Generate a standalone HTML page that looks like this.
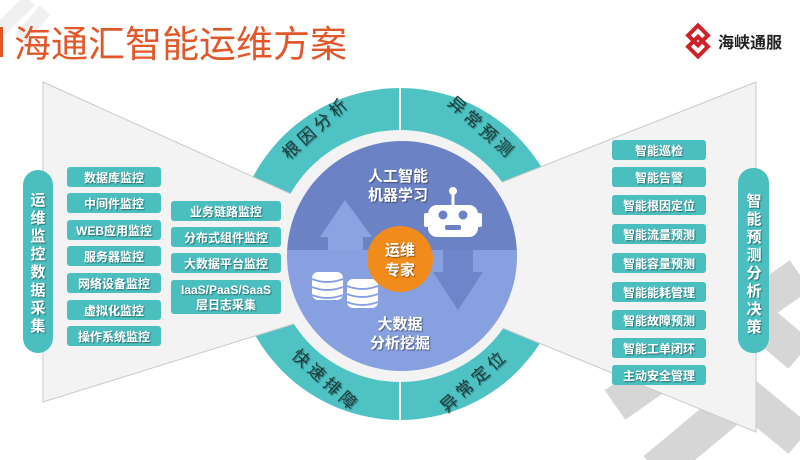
<!DOCTYPE html>
<html><head><meta charset="utf-8"><style>
html,body{margin:0;padding:0;background:#fff;width:800px;height:460px;overflow:hidden}
svg{display:block}
text{font-family:"Liberation Sans","Noto Sans CJK SC",sans-serif}
</style></head><body>
<svg width="800" height="460" viewBox="0 0 800 460" xmlns="http://www.w3.org/2000/svg">
<defs>
<filter id="sh" x="-20%" y="-20%" width="140%" height="140%"><feDropShadow dx="1" dy="1" stdDeviation="0.6" flood-color="#000" flood-opacity="0.45"/></filter>
</defs>
<!-- watermark bands -->
<g stroke="#d6d6d6" stroke-width="36" fill="none" stroke-linecap="butt">
<line x1="615" y1="405" x2="800" y2="275"/>
<line x1="735" y1="300" x2="800" y2="355"/>
<line x1="655" y1="470" x2="745" y2="395"/>
<line x1="745" y1="395" x2="800" y2="440"/>
</g>
<g stroke="#f0f0f0" stroke-width="14" fill="none"><line x1="0" y1="30" x2="30" y2="0"/><line x1="20" y1="40" x2="45" y2="10"/></g>
<!-- title -->
<rect x="0" y="27" width="3" height="30" fill="#e0572a"/>
<text x="14" y="57" font-size="37" fill="#e0572a">海通汇智能运维方案</text>
<!-- logo -->
<g transform="translate(698,41) rotate(45)" fill="none" stroke="#d0202a" stroke-width="4">
<rect x="-11" y="-11" width="14" height="14"/><rect x="-3" y="-3" width="14" height="14"/>
</g>
<text x="718" y="48" font-size="16" font-weight="bold" fill="#222">海峡通服</text>
<!-- ring -->
<circle cx="400" cy="254" r="166" fill="#4fc3c4"/>
<line x1="400" y1="80" x2="400" y2="430" stroke="#fff" stroke-width="2"/>
<!-- funnels -->
<polygon points="43,82 300,198 300,322 43,402" fill="#f3f3f3" stroke="#c9c9c9" stroke-width="1"/>
<polygon points="756,82 500,183 500,327 756,432" fill="#f3f3f3" stroke="#c9c9c9" stroke-width="1"/>
<!-- inner -->
<circle cx="400" cy="256" r="126" fill="#f3f3f3"/>
<clipPath id="cc"><circle cx="402" cy="256" r="115"/></clipPath>
<g clip-path="url(#cc)">
<rect x="280" y="130" width="250" height="120" fill="#6b82c5"/>
<rect x="280" y="250" width="250" height="130" fill="#86a0e0"/>
<polygon points="345,200 372,237 363,237 363,250 328,250 328,237 320,237" fill="#8aa4e2"/>
<polygon points="458,310 433,272 443,272 443,250 473,250 473,272 483,272" fill="#6d85c9"/>
</g>
<!-- robot -->
<g fill="#fff">
<line x1="453" y1="192" x2="453" y2="206" stroke="#fff" stroke-width="3"/>
<circle cx="453" cy="191" r="4"/>
<rect x="428" y="205" width="50" height="32" rx="9"/>
<rect x="424" y="213" width="6" height="14" rx="2"/><rect x="476" y="213" width="6" height="14" rx="2"/>
<circle cx="443" cy="215" r="4.5" fill="#6b82c5"/><circle cx="463" cy="215" r="4.5" fill="#6b82c5"/>
<rect x="445" y="225" width="16" height="5" rx="2" fill="#6b82c5"/>
</g>
<!-- databases -->
<g fill="#fff">
<rect x="312" y="272" width="31" height="28" rx="6"/>
<rect x="347" y="279" width="31" height="29" rx="6"/>
</g>
<g fill="none" stroke="#86a0e0" stroke-width="2">
<path d="M312 279 Q327 285 343 279 M312 287 Q327 293 343 287 M312 295 Q327 301 343 295"/>
<path d="M347 286 Q362 292 378 286 M347 294 Q362 300 378 294 M347 302 Q362 308 378 302"/>
</g>
<circle cx="400" cy="259" r="33" fill="#f18c1c"/>
<g font-weight="bold" fill="#fff" text-anchor="middle" filter="url(#sh)">
<text x="400" y="255" font-size="15">运维</text><text x="400" y="275" font-size="15">专家</text>
<text x="398" y="181" font-size="15">人工智能</text><text x="398" y="200" font-size="15">机器学习</text>
<text x="400" y="329" font-size="15">大数据</text><text x="400" y="348" font-size="15">分析挖掘</text>
</g>
<!-- ring labels -->
<g font-size="17" fill="#1a3a3a" text-anchor="middle" letter-spacing="4" filter="url(#sh)">
<text transform="translate(320,132) rotate(-42)">根因分析</text>
<text transform="translate(478,132) rotate(42)">异常预测</text>
<text transform="translate(322,385) rotate(42)">快速排障</text>
<text transform="translate(478,385) rotate(-42)">异常定位</text>
</g>
<!-- left pill -->
<rect x="23" y="170" width="30" height="183" rx="15" fill="#4bbfbf"/>
<g font-size="15" font-weight="bold" fill="#fff" text-anchor="middle" filter="url(#sh)">
<text x="38" y="205">运</text><text x="38" y="223">维</text><text x="38" y="241">监</text><text x="38" y="259">控</text><text x="38" y="277">数</text><text x="38" y="295">据</text><text x="38" y="313">采</text><text x="38" y="331">集</text>
</g>
<g fill="#4bbfbf">
<rect x="67" y="167" width="94" height="20" rx="3"/><rect x="67" y="193" width="94" height="20" rx="3"/><rect x="67" y="220" width="94" height="20" rx="3"/><rect x="67" y="246" width="94" height="20" rx="3"/><rect x="67" y="273" width="94" height="20" rx="3"/><rect x="67" y="300" width="94" height="20" rx="3"/><rect x="67" y="326" width="94" height="20" rx="3"/>
<rect x="171" y="201" width="110" height="20" rx="3"/><rect x="171" y="227" width="110" height="20" rx="3"/><rect x="171" y="253" width="110" height="20" rx="3"/><rect x="171" y="280" width="110" height="34" rx="3"/>
</g>
<g font-size="12" font-weight="bold" fill="#fff" text-anchor="middle" filter="url(#sh)">
<text x="114" y="182">数据库监控</text><text x="114" y="208">中间件监控</text><text x="114" y="235">WEB应用监控</text><text x="114" y="261">服务器监控</text><text x="114" y="288">网络设备监控</text><text x="114" y="315">虚拟化监控</text><text x="114" y="341">操作系统监控</text>
<text x="226" y="216">业务链路监控</text><text x="226" y="242">分布式组件监控</text><text x="226" y="268">大数据平台监控</text><text x="226" y="294">IaaS/PaaS/SaaS</text><text x="226" y="309">层日志采集</text>
</g>
<!-- right -->
<g fill="#4bbfbf">
<rect x="612" y="140" width="94" height="20" rx="3"/><rect x="612" y="167" width="94" height="20" rx="3"/><rect x="612" y="195" width="94" height="20" rx="3"/><rect x="612" y="224" width="94" height="20" rx="3"/><rect x="612" y="253" width="94" height="20" rx="3"/><rect x="612" y="282" width="94" height="20" rx="3"/><rect x="612" y="310" width="94" height="20" rx="3"/><rect x="612" y="338" width="94" height="20" rx="3"/><rect x="612" y="365" width="94" height="20" rx="3"/>
<rect x="738" y="168" width="31" height="185" rx="15"/>
</g>
<g font-size="12" font-weight="bold" fill="#fff" text-anchor="middle" filter="url(#sh)">
<text x="659" y="155">智能巡检</text><text x="659" y="182">智能告警</text><text x="659" y="210">智能根因定位</text><text x="659" y="239">智能流量预测</text><text x="659" y="268">智能容量预测</text><text x="659" y="297">智能能耗管理</text><text x="659" y="325">智能故障预测</text><text x="659" y="353">智能工单闭环</text><text x="659" y="380">主动安全管理</text>
</g>
<g font-size="15" font-weight="bold" fill="#fff" text-anchor="middle" filter="url(#sh)">
<text x="754" y="206">智</text><text x="754" y="224">能</text><text x="754" y="242">预</text><text x="754" y="260">测</text><text x="754" y="278">分</text><text x="754" y="296">析</text><text x="754" y="314">决</text><text x="754" y="332">策</text>
</g>
</svg>
</body></html>
